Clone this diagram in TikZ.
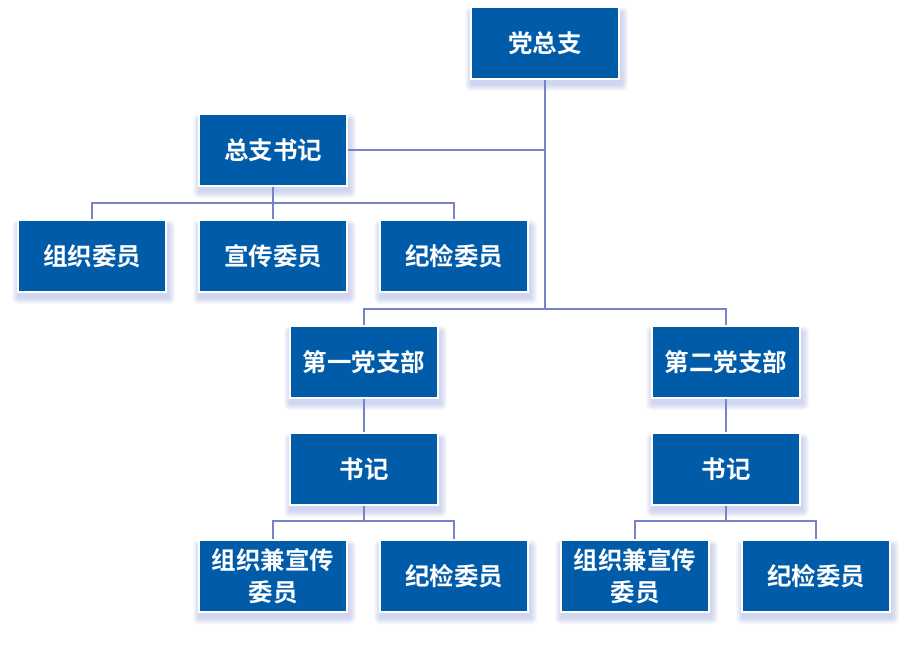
\documentclass[tikz,border=0pt]{standalone}
\usepackage{fontspec}
\newfontfamily\cjk{Noto Sans CJK SC}[BoldFont={* Bold}]
\definecolor{boxblue}{HTML}{005BA8}
\definecolor{linec}{HTML}{7882C8}
\definecolor{shadowc}{HTML}{8090D8}
\begin{document}
\begin{tikzpicture}[x=1pt,y=-1pt,
  orgbox/.style={rectangle, fill=boxblue, draw=white, line width=2pt,
    minimum width=148pt, minimum height=72pt, inner sep=2pt,
    text=white, font=\cjk\bfseries\fontsize{24.5}{32}\selectfont, align=center},
  conn/.style={draw=linec, line width=1.6pt}]
\useasboundingbox (0,0) rectangle (902,660);
\fill[white] (0,0) rectangle (902,660);
% shadows
\foreach \cx/\cy in {545/43,273/150,92/256,273/256,454/256,364/362,726/362,364/469,726/469,273/576,454/576,635/576,816/576}{
  \foreach \i in {0,1,...,6}{
    \fill[shadowc, opacity=0.06, rounded corners=\i pt]
      (\cx-75-\i+1, \cy-37-\i+7) rectangle (\cx+75+\i+2, \cy+37+\i+5);
  }
}
\node[orgbox] (dzz) at (545,43) {党总支};
\node[orgbox] (zzsj) at (273,150) {总支书记};
\node[orgbox] (zz1) at (92,256) {组织委员};
\node[orgbox] (xc1) at (273,256) {宣传委员};
\node[orgbox] (jj0) at (454,256) {纪检委员};
\node[orgbox] (b1) at (364,362) {第一党支部};
\node[orgbox] (b2) at (726,362) {第二党支部};
\node[orgbox] (sj1) at (364,469) {书记};
\node[orgbox] (sj2) at (726,469) {书记};
\node[orgbox] (m1) at (273,576) {组织兼宣传\\委员};
\node[orgbox] (j1) at (454,576) {纪检委员};
\node[orgbox] (m2) at (635,576) {组织兼宣传\\委员};
\node[orgbox] (j2) at (816,576) {纪检委员};
\coordinate (t1) at (545,309);
\coordinate (c2) at (273,203);
\coordinate (c3) at (364,521);
\coordinate (c4) at (726,521);
\draw[conn] (dzz.south) -- (t1);
\draw[conn] (zzsj.east) -- (zzsj.east -| dzz.south);
\draw[conn] (b1.north) |- (t1) -| (b2.north);
\draw[conn] (zzsj.south) -- (c2);
\draw[conn] (zz1.north) |- (c2) -| (jj0.north);
\draw[conn] (xc1.north) -- (c2);
\draw[conn] (b1.south) -- (sj1.north);
\draw[conn] (b2.south) -- (sj2.north);
\draw[conn] (sj1.south) -- (c3);
\draw[conn] (m1.north) |- (c3) -| (j1.north);
\draw[conn] (sj2.south) -- (c4);
\draw[conn] (m2.north) |- (c4) -| (j2.north);
\end{tikzpicture}
\end{document}
